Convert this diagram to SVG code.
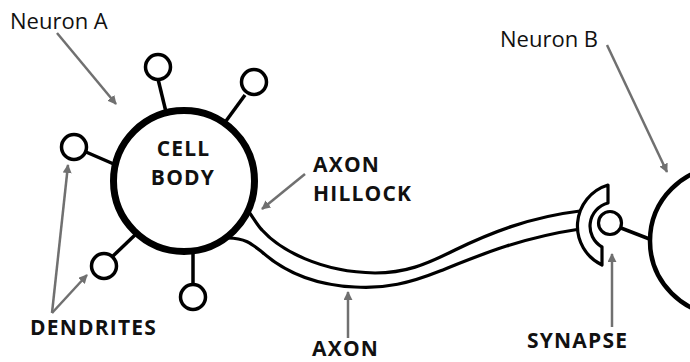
<svg xmlns="http://www.w3.org/2000/svg" width="690" height="362" viewBox="0 0 690 362">
  <style>
    .ink { fill: none; stroke: #000; stroke-linecap: round; stroke-linejoin: round; }
    .solid { fill: #fff; stroke: #000; }
    .knob { fill: #fff; stroke: #000; stroke-width: 3.5; }
    .stem { stroke: #000; stroke-width: 3.5; stroke-linecap: butt; }
    .ptr { fill: none; stroke: #707070; stroke-width: 2.5; marker-end: url(#tip); }
    .lbl { font-family: "Open Sans", "Liberation Sans", sans-serif; font-size: 22px; fill: #111; }
    .cap { font-family: "Open Sans", "Liberation Sans", sans-serif; font-size: 21px; font-weight: 700; fill: #111; letter-spacing: 1.2px; }
  </style>
  <defs>
    <marker id="tip" viewBox="0 0 10 10" refX="9" refY="5" markerWidth="9" markerHeight="9" markerUnits="userSpaceOnUse" orient="auto">
      <path d="M0,0 L10,5 L0,10 Z" fill="#707070"/>
    </marker>
  </defs>
  <rect width="690" height="362" fill="#fff"/>

  <!-- axon: two membrane lines running from the hillock to the terminal -->
  <g id="axon">
    <path class="ink" stroke-width="3.2" d="M249,212 C254,219 258,226 262,230 C280,250 320,272 375,273 C405,273 425,265 455,250 C490,233 530,217 580,211"/>
    <path class="ink" stroke-width="3.2" d="M228,238 C245,238 252,244 262,252 C280,268 310,285 355,287 C385,289 410,283 440,271 C480,255 520,238 580,229"/>
  </g>

  <!-- neuron A -->
  <g id="neuron-a">
    <line class="stem" x1="158" y1="79" x2="166" y2="112"/>
    <line class="stem" x1="245" y1="95" x2="226" y2="121"/>
    <line class="stem" x1="86" y1="152" x2="116" y2="165"/>
    <line class="stem" x1="113" y1="256" x2="135" y2="235"/>
    <line class="stem" x1="193" y1="284" x2="193" y2="250"/>
    <circle class="knob" cx="158" cy="67" r="12.5"/>
    <circle class="knob" cx="254" cy="82" r="12.5"/>
    <circle class="knob" cx="74" cy="147" r="12.5"/>
    <circle class="knob" cx="104" cy="266" r="12.5"/>
    <circle class="knob" cx="193" cy="297" r="12.5"/>
    <circle class="solid" cx="184" cy="181" r="70.5" stroke-width="7"/>
    <text class="cap" x="183.5" y="156" text-anchor="middle">CELL</text>
    <text class="cap" x="183" y="185" text-anchor="middle">BODY</text>
  </g>

  <!-- synapse: presynaptic terminal and postsynaptic knob -->
  <g id="synapse">
    <path class="solid" stroke-width="3.2" stroke-linejoin="round" d="M608,185 A43,43 0 0 0 602,265 L602,247 A24,24 0 0 1 608,203 Z"/>
    <line class="stem" x1="621" y1="228" x2="652" y2="240" stroke-width="3"/>
    <circle class="solid" cx="610" cy="223" r="11.5" stroke-width="3.2"/>
  </g>

  <!-- neuron B -->
  <g id="neuron-b">
    <circle class="solid" cx="724" cy="241" r="74" stroke-width="4.5"/>
  </g>

  <!-- pointer arrows -->
  <g id="pointers">
    <line class="ptr" x1="57" y1="33" x2="116" y2="104"/>
    <line class="ptr" x1="607" y1="45" x2="667" y2="172"/>
    <line class="ptr" x1="305" y1="174" x2="262" y2="209"/>
    <line class="ptr" x1="52" y1="313" x2="68" y2="165"/>
    <line class="ptr" x1="52" y1="313" x2="87" y2="275"/>
    <line class="ptr" x1="348" y1="338" x2="348" y2="292"/>
    <line class="ptr" x1="612" y1="327" x2="612" y2="254"/>
  </g>

  <!-- labels -->
  <g id="labels">
    <text class="lbl" x="10" y="29">Neuron A</text>
    <text class="lbl" x="500" y="47">Neuron B</text>
    <text class="cap" x="313" y="172">AXON</text>
    <text class="cap" x="313" y="201">HILLOCK</text>
    <text class="cap" x="30" y="335">DENDRITES</text>
    <text class="cap" x="312" y="356">AXON</text>
    <text class="cap" x="527" y="348">SYNAPSE</text>
  </g>
</svg>
